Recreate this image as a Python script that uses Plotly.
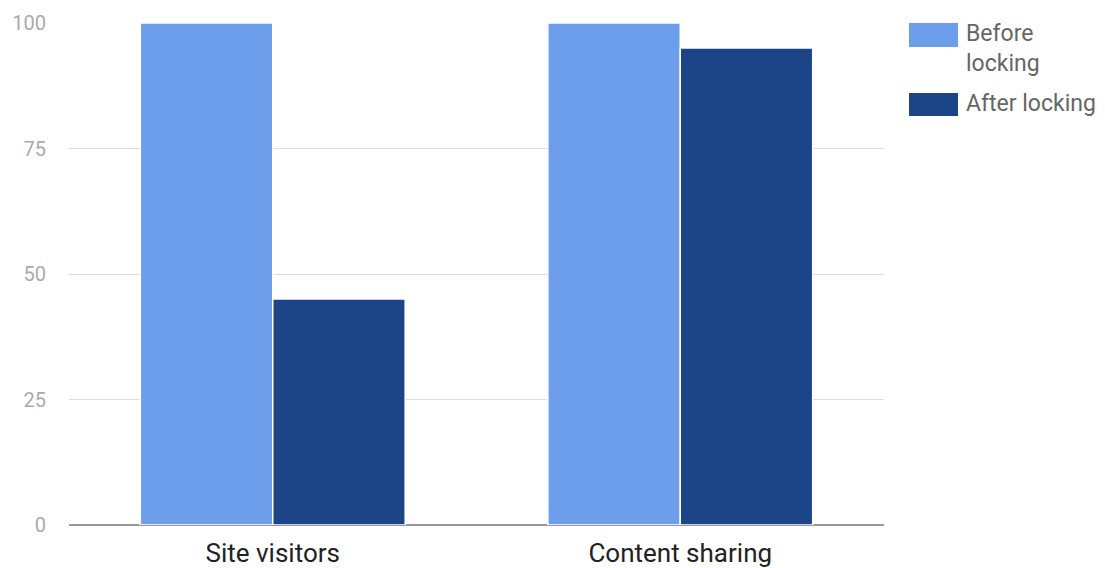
import plotly.graph_objects as go

categories = ["Site visitors", "Content sharing"]
series_names = ["Before<br>locking", "After locking"]
before_values = [100, 100]
after_values = [45, 95]
colors = ["#6d9eeb", "#1c4587"]
y_ticks = [0, 25, 50, 75, 100]

fig = go.Figure()
for name, vals, col in zip(series_names, [before_values, after_values], colors):
    fig.add_trace(go.Bar(x=categories, y=vals, name=name.replace("<br>", " "),
                         marker=dict(color=col, line=dict(color="white", width=1.5)),
                         showlegend=False))

OFF = 8  # page body margin
W, H = 1105 - OFF, 568 - OFF
ml, mr, mt, mb = 61, 221, 15, 43
pw = W - ml - mr
ph = H - mt - mb

def px_x(p):
    return (p - OFF - ml) / pw

def px_y(p):
    return (H - mb - (p - OFF)) / ph

# manual legend
legend_rows = [(23, 47, 49), (93, 116, 104)]
for (top, bot, ty), name, col in zip(legend_rows, series_names, colors):
    fig.add_shape(type="rect", xref="paper", yref="paper",
                  x0=px_x(909), x1=px_x(958), y0=px_y(bot), y1=px_y(top),
                  fillcolor=col, line=dict(width=0))
    fig.add_annotation(xref="paper", yref="paper", x=px_x(964), y=px_y(ty),
                       text=name, showarrow=False, xanchor="left", yanchor="middle",
                       align="left", font=dict(family="Roboto", size=23, color="#666666"))

fig.update_layout(
    width=W, height=H,
    margin=dict(l=ml, r=mr, t=mt, b=mb, autoexpand=False),
    paper_bgcolor="white", plot_bgcolor="white",
    barmode="group", bargap=0.35, bargroupgap=0.0,
    font=dict(family="Roboto"),
    xaxis=dict(tickfont=dict(size=26, color="#222222"), showgrid=False, automargin=False,
               showline=False, ticks="", ticklabelstandoff=10),
    yaxis=dict(range=[0, 100], tickvals=y_ticks, tickfont=dict(size=20, color="#aaaaaa"),
               gridcolor="#dddddd", gridwidth=1, zeroline=True, zerolinecolor="#999999",
               zerolinewidth=1.5, ticks="", ticklabelstandoff=22, automargin=False),
)
fig.write_html("out.html")
